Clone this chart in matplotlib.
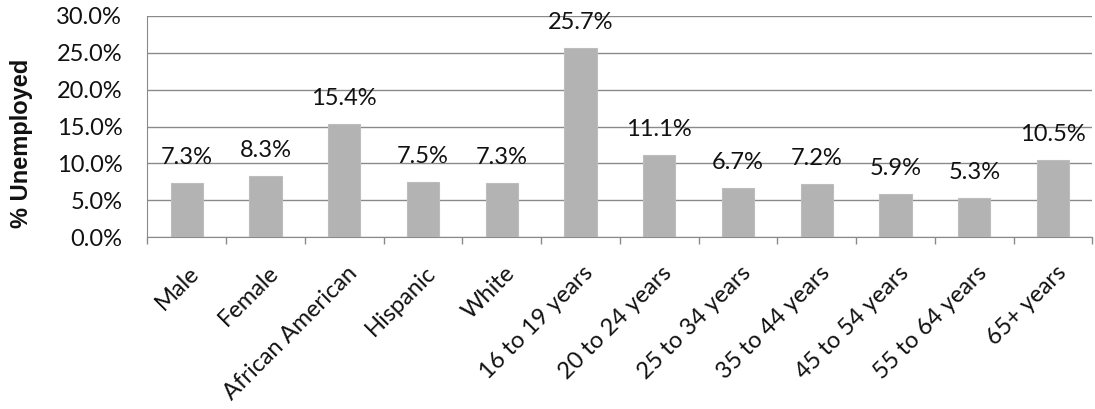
import matplotlib
matplotlib.use("Agg")
import matplotlib.pyplot as plt
import matplotlib.transforms as mtransforms
from matplotlib.ticker import FuncFormatter, MultipleLocator
import numpy as np

categories = ["Male", "Female", "African American", "Hispanic", "White",
              "16 to 19 years", "20 to 24 years", "25 to 34 years",
              "35 to 44 years", "45 to 54 years", "55 to 64 years", "65+ years"]
values = [7.3, 8.3, 15.4, 7.5, 7.3, 25.7, 11.1, 6.7, 7.2, 5.9, 5.3, 10.5]

plt.rcParams['font.family'] = ['Lato', 'DejaVu Sans']

fig = plt.figure(figsize=(10.95, 4.09), dpi=100)
ax = fig.add_axes([0.1345, 0.4205, 0.8632, 0.5404])

grid_col = "#8a8a8a"
x = np.arange(len(categories))
ax.bar(x, values, width=0.41, color="#b3b3b3", edgecolor="#bdbdbd",
       linewidth=0.8, zorder=3)
for xi, v in zip(x, values):
    ax.annotate(f"{v:.1f}%", (xi, v), xytext=(0, 13.5), textcoords="offset points",
                ha="center", va="baseline", fontsize=17, color="#111111", zorder=4)

ax.set_xlim(-0.5, len(categories) - 0.5)
ax.set_ylim(0, 30)
ax.yaxis.set_major_locator(MultipleLocator(5))
ax.yaxis.set_major_formatter(FuncFormatter(lambda v, p: f"{v:.1f}%"))
ax.grid(axis="y", color=grid_col, linewidth=1.0, zorder=0)
ax.set_axisbelow(True)

ax.set_xticks(x)
ax.set_xticklabels(categories, rotation=45, ha="right", va="top",
                   rotation_mode="anchor", fontsize=17, color="#111111")
ax.tick_params(axis="x", which="major", length=0, pad=18)
offset = mtransforms.ScaledTranslation(2 / 100, 0, fig.dpi_scale_trans)
for lab in ax.get_xticklabels():
    lab.set_transform(lab.get_transform() + offset)
ax.set_xticks(np.arange(-0.5, len(categories), 1), minor=True)
ax.tick_params(axis="x", which="minor", length=5, width=1.0, color=grid_col,
               direction="out")
ax.tick_params(axis="y", labelsize=17, length=0, pad=18, labelcolor="#111111")

for s in ["top", "right"]:
    ax.spines[s].set_visible(False)
for s in ["left", "bottom"]:
    ax.spines[s].set_color(grid_col)

ax.set_ylabel("% Unemployed", fontsize=17, fontweight="bold",
              family=["Liberation Sans", "DejaVu Sans"], color="#111111")
ax.yaxis.set_label_coords(-0.1206, 0.425)

fig.savefig("out.png", dpi=100)
